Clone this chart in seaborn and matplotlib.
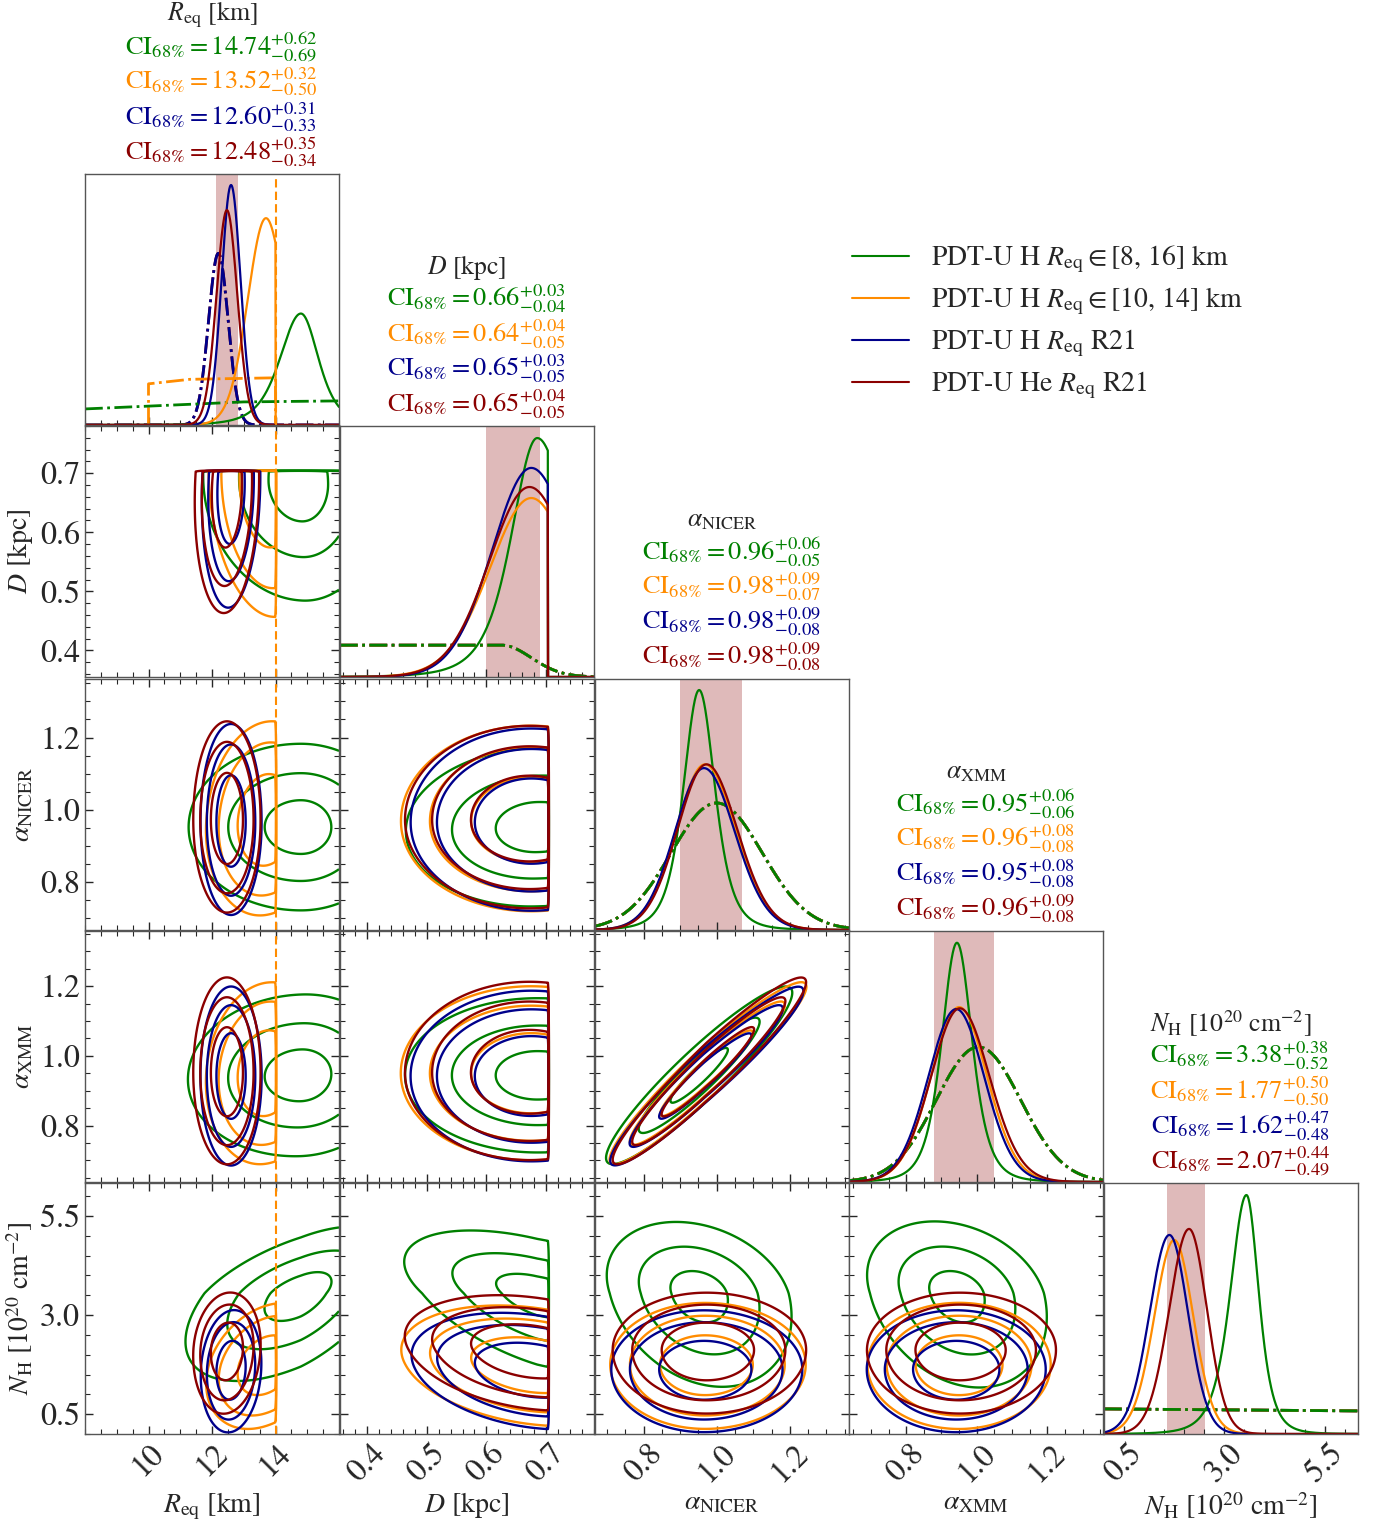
import numpy as np
import matplotlib
matplotlib.use('Agg')
import matplotlib.pyplot as plt
import seaborn as sns
from matplotlib.lines import Line2D
from matplotlib.ticker import MultipleLocator, FixedLocator, FormatStrFormatter

# ---------------- values ----------------
series_names = [r'PDT-U H $R_{\rm eq}\in[8,\,16]$ km',
                r'PDT-U H $R_{\rm eq}\in[10,\,14]$ km',
                r'PDT-U H $R_{\rm eq}$ R21',
                r'PDT-U He $R_{\rm eq}$ R21']
series_colors = ['green', 'darkorange', 'darkblue', 'darkred']

param_titles = [r'$R_{\rm eq}$ [km]', r'$D$ [kpc]', r'$\alpha_{\rm NICER}$',
                r'$\alpha_{\rm XMM}$', r'$N_{\rm H}$ [$10^{20}$ cm$^{-2}$]']
param_ranges = [(8.0, 16.0), (0.355, 0.78), (0.667, 1.362), (0.638, 1.358), (0.0, 6.33)]

# 68% credible intervals printed above the diagonal panels (green, orange, blue, red)
ci_median = [[14.74, 13.52, 12.60, 12.48], [0.66, 0.64, 0.65, 0.65],
             [0.96, 0.98, 0.98, 0.98], [0.95, 0.96, 0.95, 0.96], [3.38, 1.77, 1.62, 2.07]]
ci_plus = [[0.62, 0.32, 0.31, 0.35], [0.03, 0.04, 0.03, 0.04],
           [0.06, 0.09, 0.09, 0.09], [0.06, 0.08, 0.08, 0.09], [0.38, 0.50, 0.47, 0.44]]
ci_minus = [[0.69, 0.50, 0.33, 0.34], [0.04, 0.05, 0.05, 0.05],
            [0.05, 0.07, 0.08, 0.08], [0.06, 0.08, 0.08, 0.08], [0.52, 0.50, 0.48, 0.49]]

# posterior shapes per parameter, one row per series:
# mode, sigma below, sigma above, lower limit, upper limit
shape_R = [[14.80, 0.69, 0.58, 8.0, 16.0],
           [13.70, 0.58, 0.60, 10.0, 14.0],
           [12.60, 0.30, 0.30, 0.0, 99.0],
           [12.47, 0.33, 0.33, 0.0, 99.0]]
shape_D = [[0.685, 0.045, 0.060, 0.0, 0.703],
           [0.675, 0.070, 0.070, 0.0, 0.703],
           [0.675, 0.066, 0.070, 0.0, 0.703],
           [0.672, 0.068, 0.070, 0.0, 0.703]]
shape_aN = [[0.952, 0.045, 0.045, 0.0, 9.0],
            [0.968, 0.080, 0.085, 0.0, 9.0],
            [0.965, 0.080, 0.085, 0.0, 9.0],
            [0.972, 0.080, 0.085, 0.0, 9.0]]
shape_aX = [[0.944, 0.045, 0.045, 0.0, 9.0],
            [0.950, 0.080, 0.080, 0.0, 9.0],
            [0.942, 0.080, 0.080, 0.0, 9.0],
            [0.952, 0.082, 0.085, 0.0, 9.0]]
shape_NH = [[3.55, 0.42, 0.32, 0.0, 99.0],
            [1.75, 0.50, 0.48, 0.0, 99.0],
            [1.63, 0.50, 0.47, 0.0, 99.0],
            [2.12, 0.50, 0.45, 0.0, 99.0]]
shapes = [shape_R, shape_D, shape_aN, shape_aX, shape_NH]

# tail weight of each posterior (degrees of freedom; large = gaussian)
tail_dof = [4.0, 30.0, 40.0, 40.0]

# 1D peak heights (fraction of panel height)
peak_R = [0.444, 0.824, 0.956, 0.856]
peak_D = [0.952, 0.713, 0.833, 0.757]
peak_aN = [0.956, 0.660, 0.645, 0.660]
peak_aX = [0.953, 0.697, 0.689, 0.692]
peak_NH = [0.952, 0.773, 0.793, 0.817]
peaks = [peak_R, peak_D, peak_aN, peak_aX, peak_NH]

# correlations for each pair of parameters
pair_index = [(0, 1), (0, 2), (0, 3), (0, 4), (1, 2), (1, 3), (1, 4), (2, 3), (2, 4), (3, 4)]
rho_green = [-0.05, 0.0, 0.05, 0.55, 0.05, 0.0, -0.5, 0.93, -0.25, -0.25]
rho_orange = [-0.15, 0.1, 0.1, 0.30, 0.0, 0.0, -0.25, 0.95, 0.0, 0.0]
rho_blue = [0.10, 0.0, 0.0, 0.10, 0.0, 0.0, -0.25, 0.95, 0.0, 0.0]
rho_red = [0.10, 0.0, 0.0, 0.10, 0.0, 0.0, -0.25, 0.95, 0.0, 0.0]
rhos = [rho_green, rho_orange, rho_blue, rho_red]

# priors (dash-dot curves in the diagonal panels)
prior_R_green_x = [8.0, 13.0, 16.0]
prior_R_green_h = [0.064, 0.092, 0.096]
prior_R_orange_x = [10.0, 10.0, 11.3, 14.0, 14.0]
prior_R_orange_h = [0.0, 0.164, 0.182, 0.188, 0.0]
prior_R21 = [12.2, 0.31, 0.31, 0.0, 99.0]
prior_R21_peak = 0.684
prior_D = [0.625, 5.0, 0.05, 0.0, 9.0]
prior_D_peak = 0.127
prior_aN = [1.0, 0.125, 0.125, 0.0, 9.0]
prior_aN_peak = 0.506
prior_aX = [1.005, 0.12, 0.12, 0.0, 9.0]
prior_aX_peak = 0.538
prior_NH_x = [0.0, 6.33]
prior_NH_h = [0.100, 0.092]

contour_mass = [0.99, 0.95, 0.68]


def std_coord(x, s):
    m, slo, shi = s[:3]
    return np.where(x < m, (x - m) / slo, (x - m) / shi)


def inside(x, s):
    return (x >= s[3]) & (x <= s[4])


def curve1d(x, s, peak, nu=200.0):
    u = std_coord(x, s)
    d = (1 + u ** 2 / nu) ** (-(nu + 1) / 2) * inside(x, s)
    return d / d.max() * peak


def rho_of(k, i, j):
    return rhos[k][pair_index.index((i, j))]


def levels_for(Z):
    z = np.sort(Z.ravel())[::-1]
    c = np.cumsum(z)
    c /= c[-1]
    return sorted(z[np.searchsorted(c, f)] for f in contour_mass)


# ---------------- style ----------------
sns.set_style('ticks')
plt.rcParams['font.family'] = ['STIXGeneral', 'DejaVu Serif']
plt.rcParams['mathtext.fontset'] = 'stix'
plt.rcParams['axes.edgecolor'] = '#555555'
plt.rcParams['axes.linewidth'] = 1.0

fig = plt.figure(figsize=(13.74, 15.27), dpi=100)
W, H = 1374, 1527
col_left = [85, 340, 595, 849, 1104]
row_top = [174, 426, 679, 931, 1183]
pw, ph = 254, 251

major = [FixedLocator([10, 12, 14]), MultipleLocator(0.1), MultipleLocator(0.2),
         MultipleLocator(0.2), FixedLocator([0.5, 3.0, 5.5])]
minor = [0.5, 0.02, 0.05, 0.05, 0.5]
fmt = ['%d', '%.1f', '%.1f', '%.1f', '%.1f']
FS = 19
TFS = 23
n = 5


def style_axis(ax, which_axis, i):
    axis = ax.xaxis if which_axis == 'x' else ax.yaxis
    axis.set_major_locator(FixedLocator(major[i].tick_values(*param_ranges[i])))
    axis.set_minor_locator(MultipleLocator(minor[i]))
    axis.set_major_formatter(FormatStrFormatter(fmt[i]))


for r in range(n):
    for c in range(r + 1):
        ax = fig.add_axes([col_left[c] / W, 1 - (row_top[r] + ph) / H, pw / W, ph / H])
        xlo, xhi = param_ranges[c]
        if r == c:
            # ---- 1D marginal ----
            x = np.linspace(xlo, xhi, 1200)
            lo = ci_median[c][3] - ci_minus[c][3]
            hi = ci_median[c][3] + ci_plus[c][3]
            ax.axvspan(lo, hi, color='darkred', alpha=0.27, lw=0, zorder=0)
            if c == 0:
                for k in [3, 2]:
                    sns.lineplot(x=x, y=curve1d(x, prior_R21, prior_R21_peak), ax=ax,
                                 color=series_colors[k], lw=2, ls='-.', estimator=None)
                sns.lineplot(x=prior_R_orange_x, y=prior_R_orange_h, ax=ax, sort=False,
                             color=series_colors[1], lw=2, ls='-.', estimator=None)
                sns.lineplot(x=prior_R_green_x, y=prior_R_green_h, ax=ax,
                             color=series_colors[0], lw=2, ls='-.', estimator=None)
            else:
                if c == 4:
                    py = np.interp(x, prior_NH_x, prior_NH_h)
                else:
                    ps, pk = [(prior_D, prior_D_peak), (prior_aN, prior_aN_peak),
                              (prior_aX, prior_aX_peak)][c - 1]
                    py = curve1d(x, ps, pk)
                for k in [3, 2, 1, 0]:
                    sns.lineplot(x=x, y=py, ax=ax, color=series_colors[k], lw=2,
                                 ls='-.', estimator=None)
            for k in range(4):
                sns.lineplot(x=x, y=curve1d(x, shapes[c][k], peaks[c][k], tail_dof[k]),
                             ax=ax, color=series_colors[k], lw=1.6, estimator=None)
            ax.set_ylim(0, 1)
            ax.set_yticks([])
            # titles
            ax.text(0.5, 1 + 159 / ph, param_titles[c], transform=ax.transAxes,
                    ha='center', va='center', fontsize=18.5)
            for k in range(4):
                s = (r'$\mathrm{CI}_{68\%%} = %.2f^{+%.2f}_{-%.2f}$'
                     % (ci_median[c][k], ci_plus[c][k], ci_minus[c][k]))
                ax.text(0.5 + 9 / pw, 1 + (127 - 35 * k) / ph, s, transform=ax.transAxes,
                        ha='center', va='center', fontsize=FS, color=series_colors[k])
            ax.tick_params(which='both', direction='in', top=False, right=False, left=False)
        else:
            # ---- 2D contours ----
            ylo, yhi = param_ranges[r]
            gx = np.linspace(xlo, xhi, 260)
            gy = np.linspace(ylo, yhi, 260)
            X, Y = np.meshgrid(gx, gy)
            for k in range(4):
                sx, sy = shapes[c][k], shapes[r][k]
                rho = rho_of(k, c, r)
                nu = tail_dof[k]
                u, v = std_coord(X, sx), std_coord(Y, sy)
                q = (u ** 2 - 2 * rho * u * v + v ** 2) / (1 - rho ** 2)
                Zfull = (1 + q / nu) ** (-(nu + 2) / 2)
                Z = Zfull * inside(X, sx) * inside(Y, sy)
                ax.contour(X, Y, Z, levels=levels_for(Zfull), colors=series_colors[k],
                           linewidths=1.7)
            ax.set_ylim(ylo, yhi)
            style_axis(ax, 'y', r)
            ax.tick_params(which='both', direction='in', top=True, right=True)
        ax.set_xlim(xlo, xhi)
        style_axis(ax, 'x', c)
        if c == 0:
            ax.axvline(14.0, color='darkorange', ls='--', lw=1.5, dashes=(4, 2))
        ax.tick_params(which='major', length=6, width=1, labelsize=TFS)
        ax.tick_params(which='minor', length=3.5, width=0.8)
        ax.set_xlabel('')
        ax.set_ylabel('')
        if r == n - 1:
            for lab in ax.get_xticklabels():
                lab.set_rotation(45)
            ax.set_xlabel(param_titles[c], fontsize=FS + 1)
            ax.xaxis.set_label_coords(0.5, -0.225)
        else:
            ax.set_xticklabels([])
        if c == 0 and r > 0:
            ax.set_ylabel(param_titles[r], fontsize=FS + 1)
            ax.yaxis.set_label_coords(-0.195, 0.5)
        elif r != c:
            ax.set_yticklabels([])

handles = [Line2D([], [], color=col, lw=1.5) for col in series_colors]
fig.legend(handles, series_names, loc='upper left', bbox_to_anchor=(852 / W, 1 - 244 / H),
           frameon=False, fontsize=20, handlelength=2.05, handletextpad=0.8,
           labelspacing=0.38, borderpad=0, borderaxespad=0)

fig.savefig('out.png', dpi=100)
